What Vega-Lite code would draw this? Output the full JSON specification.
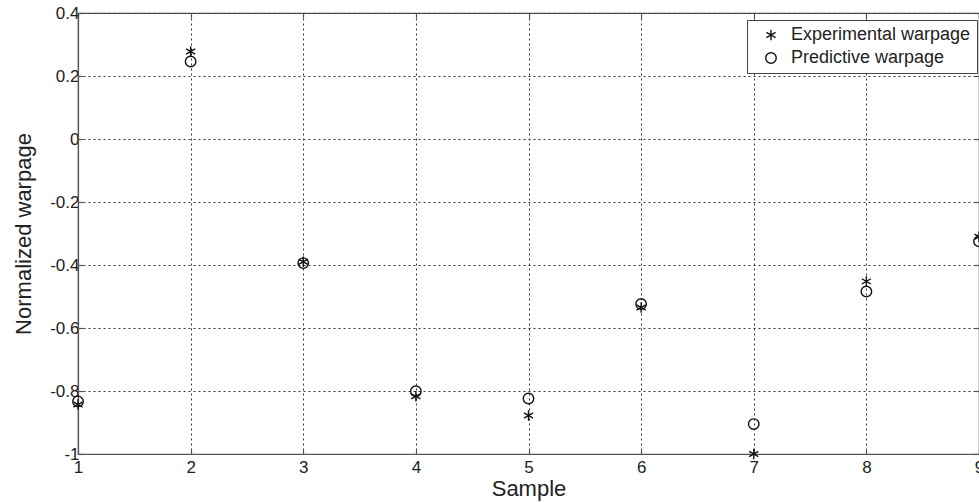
{
  "$schema": "https://vega.github.io/schema/vega-lite/v6.json",
  "width": 901,
  "height": 441,
  "autosize": {"type": "none"},
  "padding": {"left": 78, "top": 13, "right": 0, "bottom": 49},
  "background": "white",
  "config": {
    "font": "Liberation Sans",
    "view": {"stroke": "#555555", "strokeWidth": 1.2},
    "axis": {
      "labelFont": "Liberation Sans",
      "labelFontSize": 17,
      "labelColor": "#222222",
      "labelFlush": false,
      "labelOverlap": false,
      "titleFont": "Liberation Sans",
      "titleFontSize": 22,
      "titleFontWeight": "normal",
      "titleColor": "#222222",
      "domainColor": "#555555",
      "domainWidth": 1.2,
      "tickColor": "#555555",
      "tickWidth": 1.2,
      "tickSize": -5,
      "gridColor": "#333333",
      "gridWidth": 1,
      "gridDash": [2, 3],
      "gridOpacity": 1
    },
    "legend": {
      "labelFont": "Liberation Sans",
      "labelFontSize": 18,
      "labelColor": "#222222",
      "labelLimit": 0,
      "strokeColor": "#444444",
      "fillColor": "white",
      "padding": 6,
      "rowPadding": 5,
      "symbolOffset": 9,
      "labelOffset": 11,
      "symbolSize": 110,
      "symbolStrokeWidth": 1.4,
      "symbolStrokeColor": "#111111"
    }
  },
  "data": {
    "values": [
      {"sample": 1, "series": "Experimental warpage", "value": -0.843},
      {"sample": 2, "series": "Experimental warpage", "value": 0.278},
      {"sample": 3, "series": "Experimental warpage", "value": -0.39},
      {"sample": 4, "series": "Experimental warpage", "value": -0.817},
      {"sample": 5, "series": "Experimental warpage", "value": -0.878},
      {"sample": 6, "series": "Experimental warpage", "value": -0.535},
      {"sample": 7, "series": "Experimental warpage", "value": -1.0},
      {"sample": 8, "series": "Experimental warpage", "value": -0.452},
      {"sample": 9, "series": "Experimental warpage", "value": -0.31},
      {"sample": 1, "series": "Predictive warpage", "value": -0.833},
      {"sample": 2, "series": "Predictive warpage", "value": 0.246},
      {"sample": 3, "series": "Predictive warpage", "value": -0.394},
      {"sample": 4, "series": "Predictive warpage", "value": -0.801},
      {"sample": 5, "series": "Predictive warpage", "value": -0.824},
      {"sample": 6, "series": "Predictive warpage", "value": -0.524},
      {"sample": 7, "series": "Predictive warpage", "value": -0.905},
      {"sample": 8, "series": "Predictive warpage", "value": -0.484},
      {"sample": 9, "series": "Predictive warpage", "value": -0.325}
    ]
  },
  "layer": [
    {
      "mark": {"type": "point", "filled": false, "color": "#111111", "strokeWidth": 1.4, "size": 110, "opacity": 1},
      "encoding": {
        "x": {
          "field": "sample", "type": "quantitative",
          "scale": {"domain": [1, 9], "nice": false, "zero": false},
          "axis": {"orient": "bottom", "title": "Sample", "values": [1, 2, 3, 4, 5, 6, 7, 8, 9], "format": "d", "labelPadding": 10, "titlePadding": 3, "grid": true}
        },
        "y": {
          "field": "value", "type": "quantitative",
          "scale": {"domain": [-1, 0.4], "nice": false, "zero": false},
          "axis": {
            "orient": "left", "title": "Normalized warpage",
            "values": [-1, -0.8, -0.6, -0.4, -0.2, 0, 0.2, 0.4],
            "labelExpr": "datum.value < -0.001 ? '-' + format(-datum.value, '.1~f') : format(abs(datum.value), '.1~f')",
            "labelPadding": 4, "titlePadding": 14, "grid": true
          }
        },
        "shape": {
          "field": "series", "type": "nominal",
          "scale": {
            "domain": ["Experimental warpage", "Predictive warpage"],
            "range": ["M0,-1L0,1M-0.87,-0.5L0.87,0.5M-0.87,0.5L0.87,-0.5", "circle"]
          },
          "legend": {"title": null, "orient": "none", "legendX": 669, "legendY": 7}
        }
      }
    },
    {
      "mark": {"type": "point", "opacity": 0},
      "encoding": {
        "x": {
          "field": "sample", "type": "quantitative",
          "axis": {"orient": "top", "title": null, "values": [1, 2, 3, 4, 5, 6, 7, 8, 9], "labels": false, "grid": false, "domain": false}
        },
        "y": {
          "field": "value", "type": "quantitative",
          "axis": {"orient": "right", "title": null, "values": [-1, -0.8, -0.6, -0.4, -0.2, 0, 0.2, 0.4], "labels": false, "grid": false, "domain": false}
        }
      }
    }
  ],
  "resolve": {"axis": {"x": "independent", "y": "independent"}}
}
